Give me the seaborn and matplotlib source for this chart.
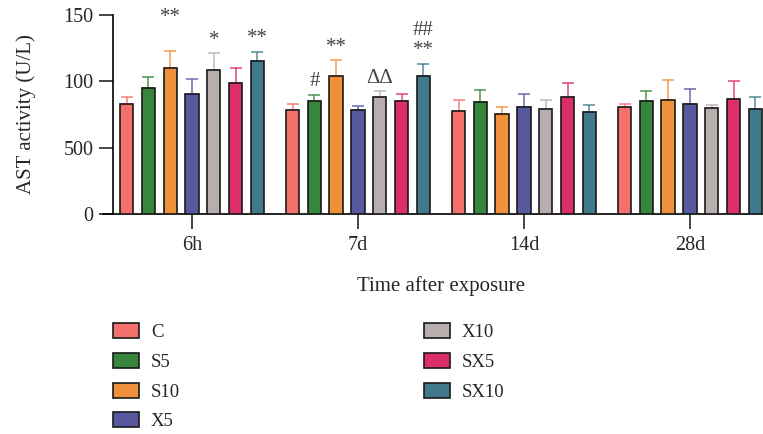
import numpy as np
import pandas as pd
import matplotlib as mpl
import matplotlib.pyplot as plt
import seaborn as sns

# data
times = ['6h', '7d', '14d', '28d']
groups = ['C', 'S5', 'S10', 'X5', 'X10', 'SX5', 'SX10']
colors = ['#F4716B', '#36873C', '#EE913A', '#57589E', '#B8AEAE', '#DC2E6B', '#40798C']

# mean values, one list per time point (order = groups)
mean_6h = [83, 94.7, 110, 90.7, 108.3, 98.5, 115.6]
mean_7d = [78.4, 85, 104, 78.2, 88.2, 85.4, 104]
mean_14d = [77.9, 84.2, 75.4, 80.7, 79.4, 88, 76.9]
mean_28d = [80.4, 85.4, 85.7, 82.7, 79.7, 86.7, 78.9]

# upper error (SD)
err_6h = [5, 8.3, 13, 11.1, 12.7, 11.5, 6.4]
err_7d = [4.6, 5, 11.8, 3.2, 4.3, 5.3, 9.3]
err_14d = [8, 9.3, 5.5, 10, 6.3, 11, 5.3]
err_28d = [2.5, 7.3, 15.5, 11.5, 2.7, 13.8, 9.5]

# significance marks: (time, group, text, row)
marks = [('6h', 'S10', '**', 1), ('6h', 'X10', '*', 0), ('6h', 'SX10', '**', 0),
         ('7d', 'S5', '#', 0), ('7d', 'S10', '**', 0), ('7d', 'X10', 'ΔΔ', 0),
         ('7d', 'SX10', '**', 0), ('7d', 'SX10', '##', 1)]

yticks = [0, 50, 100, 150]
ytick_labels = ['0', '500', '100', '150']

means = [mean_6h, mean_7d, mean_14d, mean_28d]
errs = [err_6h, err_7d, err_14d, err_28d]
rows = []
for t, m, e in zip(times, means, errs):
    for g, mv, ev in zip(groups, m, e):
        rows.append({'time': t, 'group': g, 'value': mv, 'err': ev})
df = pd.DataFrame(rows)

sns.set_style('white')
plt.rcParams['font.family'] = ['Liberation Serif', 'DejaVu Serif']

fig = plt.figure(figsize=(7.63, 4.34), dpi=100)
ax = fig.add_axes([103 / 763, 1 - 214 / 434, 660 / 763, 199 / 434])

sns.barplot(data=df, x='time', y='value', hue='group', order=times, hue_order=groups,
            palette=colors, width=0.92, gap=0.39, errorbar=None,
            edgecolor='#1a1a1a', linewidth=1.2, saturation=1, ax=ax, zorder=3)
bar_conts = list(ax.containers)

# upward-only error bars in a lighter tone of the bar colour
for gi, cont in enumerate(bar_conts):
    sub = df[df['group'] == groups[gi]].set_index('time').loc[times]
    for bar, (_, r) in zip(cont.patches, sub.iterrows()):
        xc = bar.get_x() + bar.get_width() / 2
        ax.errorbar(xc, r['value'], yerr=[[0], [r['err']]], fmt='none',
                    ecolor=colors[gi], alpha=0.75, elinewidth=1.3,
                    capsize=4.5, capthick=1.3, zorder=2)

for t, g, txt, row in marks:
    ti, gi = times.index(t), groups.index(g)
    bar = bar_conts[gi].patches[ti]
    r = df[(df['time'] == t) & (df['group'] == g)].iloc[0]
    xc = bar.get_x() + bar.get_width() / 2
    ax.text(xc, r['value'] + r['err'] + 10 + row * 15, txt, ha='center', va='center',
            fontsize=15, color='#444444')

x0 = -0.536
ax.set_xlim(x0, 3.44)
ax.set_ylim(0, 150)
ax.set_yticks(yticks)
ax.set_yticklabels(ytick_labels)
ax.spines['left'].set_position(('data', -0.476))
for s in ['top', 'right']:
    ax.spines[s].set_visible(False)
for s in ['left', 'bottom']:
    ax.spines[s].set_color('black')
    ax.spines[s].set_linewidth(1.2)
ax.tick_params(axis='y', direction='out', length=10, width=1.2, left=True, pad=4, labelsize=14.5)
ax.tick_params(axis='x', direction='out', length=11, width=1.2, bottom=True, pad=5, labelsize=14.5)

ax.set_ylabel('AST activity (U/L)', fontsize=15, va='center')
ax.yaxis.set_label_coords((26 - 103) / 660, 0.5)
ax.set_xlabel('Time after exposure', fontsize=15)
ax.xaxis.set_label_coords((1.5 - x0) / (3.44 - x0), -0.31)
ax.xaxis.label.set_va('top')

handles, labels = ax.get_legend_handles_labels()
ax.get_legend().remove()
fig.legend(handles, labels, ncol=2, loc='upper left',
           bbox_to_anchor=(113 / 763, 1 - 323 / 434), frameon=False,
           fontsize=13.5, handlelength=1.39, handleheight=0.85, handletextpad=0.64,
           labelspacing=0.63, columnspacing=13.0, borderpad=0, borderaxespad=0)

fig.savefig('out.png', dpi=100)
